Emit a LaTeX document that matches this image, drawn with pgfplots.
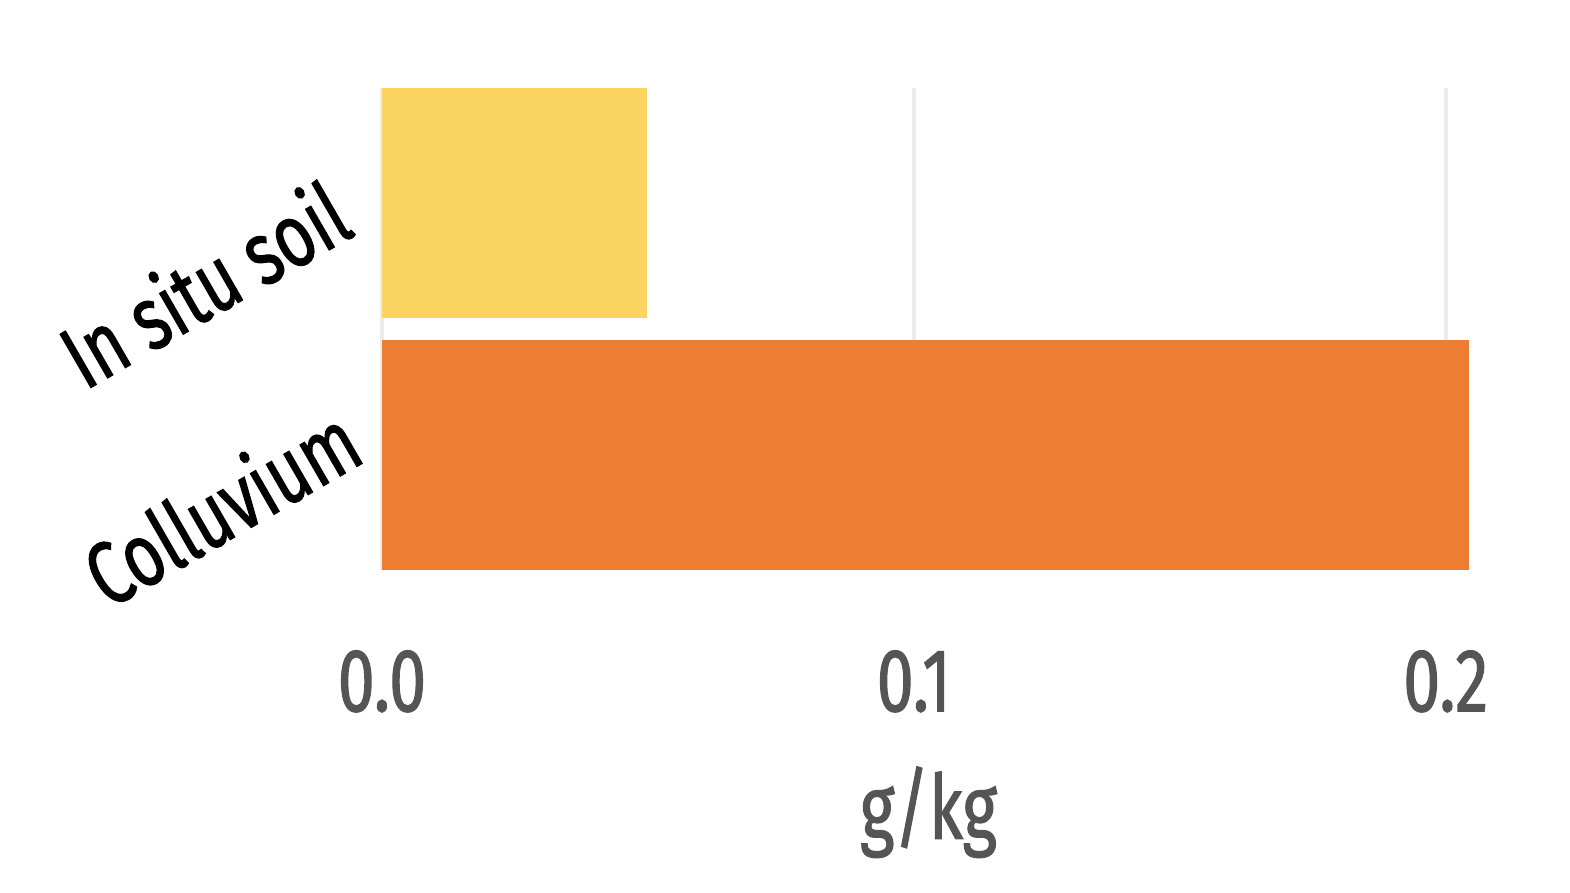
\documentclass[border=0pt]{standalone}
\usepackage{fontspec}
\setmainfont{Fira Sans}[FakeStretch=0.74, FakeBold=1.2]
\usepackage{pgfplots}
\pgfplotsset{compat=1.18}
\definecolor{barYellow}{HTML}{FCD462}
\definecolor{barOrange}{HTML}{ED7D33}
\definecolor{tickGray}{HTML}{555555}
\definecolor{gridGray}{HTML}{EBEBEB}

\begin{document}
\begin{tikzpicture}
\begin{axis}[
  at={(0,0)}, anchor=south west,
  scale only axis, width=10.93cm, height=4.82cm,
  xbar, bar width=0.913, bar shift=0pt,
  xmin=0, xmax=0.2055, ymin=-0.456, ymax=1.456,
  axis line style={draw=none},
  major tick length=0pt,
  xtick={0,0.1,0.2},
  xticklabel={\pgfmathprintnumber[fixed,fixed zerofill,precision=1,assume math mode=true]{\tick}},
  ytick={1}, yticklabels={In situ soil},
  extra y ticks={0}, extra y tick labels={Colluvium},
  extra y tick style={yticklabel style={xshift=0.22cm, yshift=0.17cm}, major tick length=0pt},
  xmajorgrids, grid style={gridGray, line width=1pt},
  xticklabel style={font=\fontsize{25.5}{30}\selectfont, text=tickGray, yshift=-0.68cm},
  yticklabel style={font=\fontsize{25.5}{30}\selectfont, text=black, rotate=30, anchor=east, xshift=-0.25cm, yshift=0.2cm},
  xlabel={g/kg},
  xlabel style={font=\fontsize{25.5}{30}\selectfont, text=tickGray, yshift=-0.3cm},
]
\addplot[fill=barYellow, draw=none] coordinates {(0.0498,1)};
\addplot[fill=barOrange, draw=none] coordinates {(0.2043,0)};
\end{axis}
\pgfresetboundingbox
\path[use as bounding box] (-3.82,-3.23) rectangle (11.88,5.70);
\end{tikzpicture}
\end{document}
